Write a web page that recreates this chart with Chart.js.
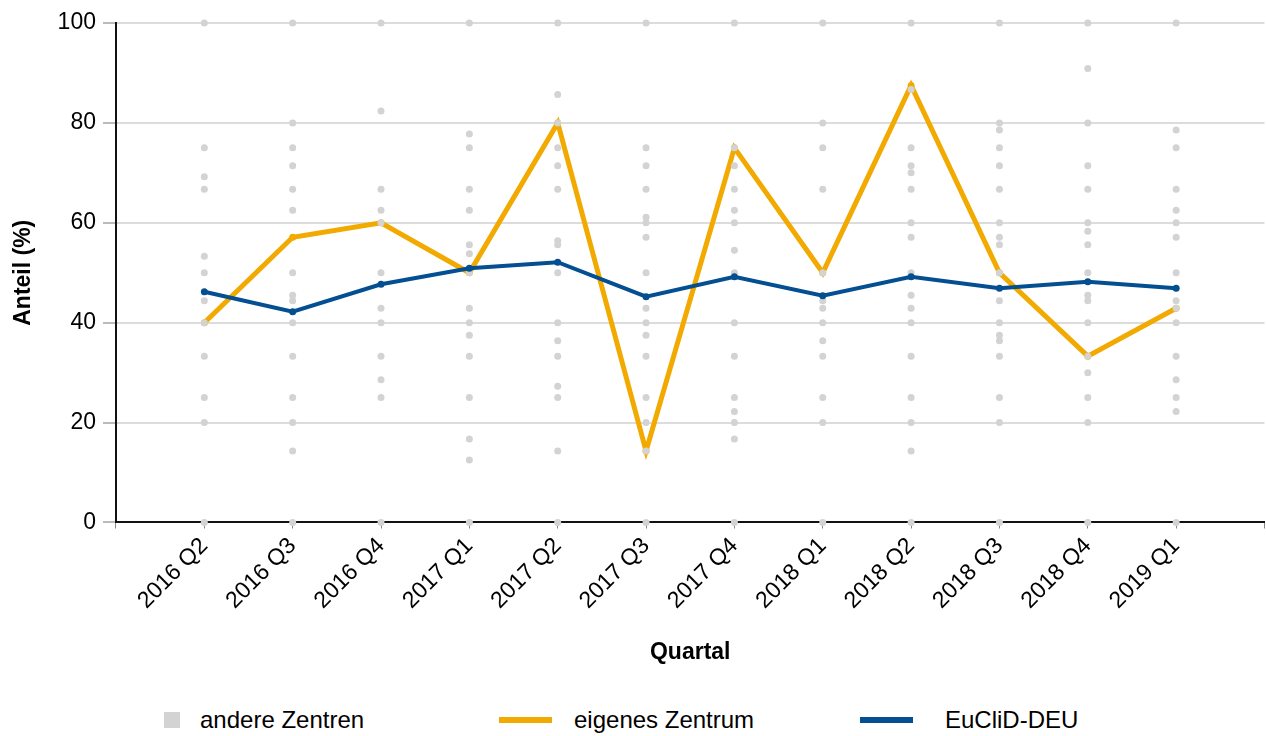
<!DOCTYPE html>
<html lang="de">
<head>
<meta charset="utf-8">
<title>Anteil je Quartal</title>
<script src="https://cdn.jsdelivr.net/npm/chart.js@4.4.1/dist/chart.umd.min.js"></script>
<style>
  html, body { margin: 0; padding: 0; background: #fff; }
  body { width: 1266px; height: 736px; overflow: hidden; font-family: "Liberation Sans", Arial, sans-serif; }
  #wrap { position: relative; width: 1266px; height: 736px; overflow: hidden; }
  #chart { position: absolute; left: 0; top: 0; }
  .legend { position: absolute; top: 706px; height: 28px; display: flex; align-items: center; font-size: 24px; color: #000; }
  .legend .box { width: 16px; height: 16px; background: #d3d3d3; margin-right: 20px; }
  .legend .bar { width: 53px; height: 6px; margin-right: 22px; }
</style>
</head>
<body>
<div id="wrap">
  <!-- canvas is a bit wider than the page: the empty end category still reserves label room on the right -->
  <canvas id="chart" width="1288" height="690"></canvas>
  <div class="legend" style="left:164px"><span class="box"></span>andere Zentren</div>
  <div class="legend" style="left:499px"><span class="bar" style="background:#f2a900"></span>eigenes Zentrum</div>
  <div class="legend" style="left:860px"><span class="bar" style="background:#034f92; margin-right:32px"></span>EuCliD-DEU</div>
</div>
<script>
// Quartale auf der x-Achse
const quarters = ['2016 Q2', '2016 Q3', '2016 Q4', '2017 Q1', '2017 Q2', '2017 Q3',
                  '2017 Q4', '2018 Q1', '2018 Q2', '2018 Q3', '2018 Q4', '2019 Q1'];

// Werte je Quartal (%)
const eigenesZentrum = [40, 57.1, 60, 50, 80, 14.3, 75, 50, 87.5, 50, 33.3, 42.9];
const euclidDeu = [46.2, 42.2, 47.7, 50.9, 52.1, 45.2, 49.2, 45.4, 49.2, 46.9, 48.2, 46.9];

// Einzelwerte der anderen Zentren, ein Array pro Quartal
const andereZentren = [
  [100, 75, 69.2, 66.7, 53.3, 50, 44.4, 40, 33.3, 25, 20, 0],
  [100, 80, 75, 71.4, 66.7, 62.5, 50, 45.5, 44.4, 40, 33.3, 25, 20, 14.3, 0],
  [100, 82.4, 66.7, 62.5, 60, 50, 42.9, 40, 33.3, 28.6, 25, 0],
  [100, 77.8, 75, 66.7, 62.5, 55.6, 53.8, 50, 42.9, 40, 37.5, 33.3, 25, 16.7, 12.5, 0],
  [100, 85.7, 80, 75, 71.4, 66.7, 56.4, 55.6, 50, 40, 36.4, 33.3, 27.3, 25, 14.3, 0],
  [100, 75, 71.4, 66.7, 61.1, 60, 57.1, 50, 42.9, 40, 37.5, 33.3, 25, 20, 14.3, 0],
  [100, 75, 71.4, 66.7, 62.5, 60, 54.5, 50, 40, 33.3, 25, 22.2, 20, 16.7, 0],
  [100, 80, 75, 66.7, 50, 44.4, 42.9, 40, 36.4, 33.3, 25, 20, 0],
  [100, 86.7, 75, 71.4, 70, 66.7, 60, 57.1, 50, 45.5, 42.9, 40, 33.3, 25, 20, 14.3, 0],
  [100, 80, 78.6, 75, 71.4, 66.7, 60, 57.1, 55.6, 50, 44.4, 40, 37.5, 36.4, 33.3, 25, 20, 0],
  [100, 90.9, 80, 71.4, 66.7, 60, 58.3, 55.6, 50, 45.5, 44.4, 40, 33.3, 30, 25, 20, 0],
  [100, 78.6, 75, 66.7, 62.5, 60, 57.1, 50, 44.4, 42.9, 40, 33.3, 28.6, 25, 22.2, 0]
];

const yTicks = [0, 20, 40, 60, 80, 100];

// leere Randkategorien, damit die Quartale zwischen den Achsenenden liegen
const axisLabels = ['', ...quarters, ''];

const toPoints = (values) => values.map((v, i) => ({ x: quarters[i], y: v }));
const otherPoints = andereZentren.flatMap((list, i) => list.map((v) => ({ x: quarters[i], y: v })));

const font = { family: '"Liberation Sans", Arial, sans-serif', size: 23 };

new Chart(document.getElementById('chart'), {
  type: 'line',
  data: {
    labels: axisLabels,
    datasets: [
      {
        label: 'EuCliD-DEU',
        data: toPoints(euclidDeu),
        borderColor: '#034f92',
        backgroundColor: '#034f92',
        borderWidth: 4,
        pointRadius: 3.5,
        pointBorderWidth: 0,
        tension: 0,
        order: 0
      },
      {
        label: 'andere Zentren',
        data: otherPoints,
        showLine: false,
        backgroundColor: '#d3d3d3',
        borderColor: '#d3d3d3',
        pointRadius: 3.5,
        pointBorderWidth: 0,
        clip: false,
        order: 1
      },
      {
        label: 'eigenes Zentrum',
        data: toPoints(eigenesZentrum),
        borderColor: '#f2a900',
        backgroundColor: '#f2a900',
        borderWidth: 5,
        pointRadius: 3.5,
        pointBorderWidth: 0,
        tension: 0,
        order: 2
      }
    ]
  },
  options: {
    responsive: false,
    animation: false,
    devicePixelRatio: 1,
    layout: { padding: { top: 23, right: 1, left: 0, bottom: 24 } },
    plugins: {
      legend: { display: false },
      tooltip: { enabled: false }
    },
    scales: {
      x: {
        type: 'category',
        offset: false,
        grid: { drawOnChartArea: false, drawTicks: true, tickLength: 6, tickColor: '#888', lineWidth: 1 },
        border: { color: '#111', width: 2 },
        ticks: {
          autoSkip: false,
          maxRotation: 45,
          minRotation: 45,
          padding: 4,
          color: '#000',
          font: font
        },
        title: {
          display: true,
          text: 'Quartal',
          color: '#000',
          font: { ...font, weight: 'bold' },
          padding: { top: 20, bottom: 0 }
        }
      },
      y: {
        min: 0,
        max: 100,
        afterBuildTicks: (scale) => { scale.ticks = yTicks.map((v) => ({ value: v })); },
        grid: { color: '#dcdcdc', lineWidth: 2, tickLength: 13, tickColor: '#777', tickWidth: 1 },
        border: { color: '#111', width: 2 },
        ticks: { padding: 7, color: '#000', font: font },
        title: {
          display: true,
          text: 'Anteil (%)',
          color: '#000',
          font: { ...font, weight: 'bold' },
          padding: { top: 10, bottom: 13 }
        }
      }
    }
  }
});
</script>
</body>
</html>
